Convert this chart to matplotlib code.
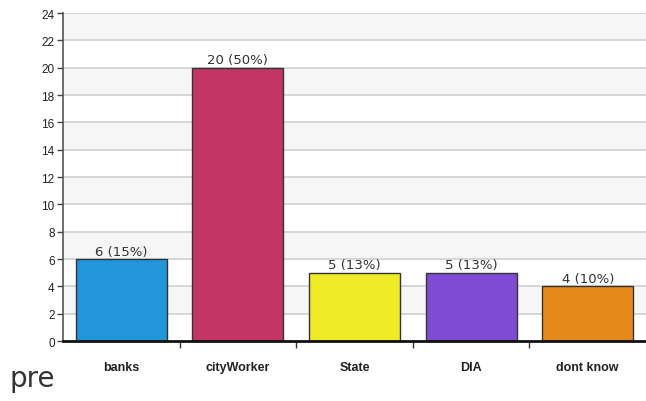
import numpy as np
from matplotlib import pyplot as plt

categories = ['banks', 'cityWorker', 'State', 'DIA', 'dont know']
counts = [6, 20, 5, 5, 4]
percents = [15, 50, 13, 13, 10]
colors = ['#2196db', '#c33565', '#eeea26', '#7f4bd4', '#e5891a']
y_ticks = list(range(0, 25, 2))

fig = plt.figure(figsize=(6.46, 4.02), dpi=100)
ax = fig.add_axes([0.0975, 0.149, 0.9025, 0.816])

x = np.arange(len(categories))
ax.set_xlim(-0.5, len(categories) - 0.5)
ax.set_ylim(0, 24)

# alternating bands
for lo in range(2, 24, 4):
    ax.axhspan(lo, lo + 2, color='#f6f6f6', zorder=0, lw=0)
for t in y_ticks[1:]:
    ax.axhline(t, color='#d0d0d0', lw=1.2, zorder=1)

ax.bar(x, counts, width=0.78, color=colors, edgecolor='#333333', linewidth=1, zorder=2)

for xi, c, p in zip(x, counts, percents):
    ax.text(xi, c + 0.1, f'{c} ({p}%)', ha='center', va='bottom',
            fontsize=9.5, color='#333333', family='DejaVu Sans', zorder=3)

ax.set_yticks(y_ticks)
ax.set_yticklabels([str(t) for t in y_ticks], fontsize=8.5, family='Liberation Sans', color='#222222')
ax.set_xticks(np.arange(1, len(categories)) - 0.5, minor=False)
ax.set_xticklabels([''] * (len(categories) - 1))
ax.set_xticks(x, minor=True)
ax.set_xticklabels(categories, minor=True, fontsize=9, fontweight='bold',
                   family='Liberation Sans', color='#222222')
ax.tick_params(axis='x', which='minor', length=0, pad=14)
ax.tick_params(axis='x', which='major', length=5, width=1, color='#333333', direction='out')
ax.tick_params(axis='y', length=4, width=1, color='#444444', pad=2)

for s in ['top', 'right']:
    ax.spines[s].set_visible(False)
ax.spines['left'].set_color('#555555')
ax.spines['left'].set_linewidth(1.2)
ax.spines['bottom'].set_color('#111111')
ax.spines['bottom'].set_linewidth(2)

fig.text(0.014, 0.037, 'pre', fontsize=20, family='DejaVu Sans',
         color='#333333', ha='left', va='baseline')

fig.savefig('out.png', dpi=100)
